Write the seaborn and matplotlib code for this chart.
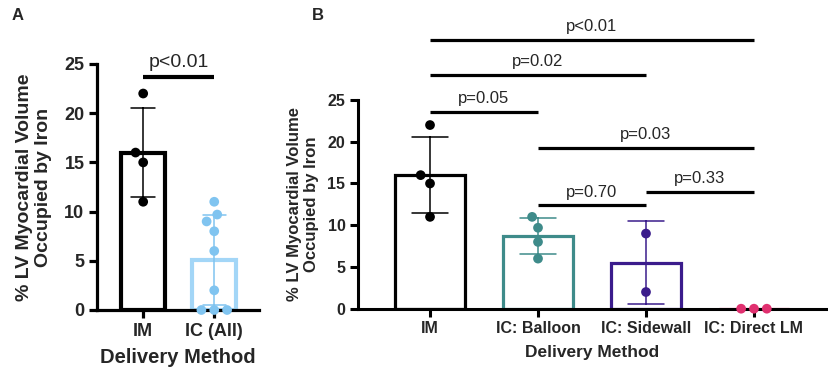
import numpy as np
import pandas as pd
import matplotlib
matplotlib.use("Agg")
import matplotlib.pyplot as plt
import seaborn as sns

sns.set_theme(style="ticks")
plt.rcParams['font.family'] = ['Liberation Sans', 'DejaVu Sans']

# ---------------- data ----------------
im_vals = [22, 16, 15, 11]
balloon_vals = [11, 9.7, 8, 6]
sidewall_vals = [9, 2]
direct_vals = [0, 0, 0]
ic_all_vals = balloon_vals + sidewall_vals + direct_vals

cats_a = ["IM", "IC (All)"]
cats_b = ["IM", "IC: Balloon", "IC: Sidewall", "IC: Direct LM"]

bar_colors_a = ["#000000", "#A3D6F7"]
pt_colors_a = ["#000000", "#80C4F0"]
colors_b = ["#000000", "#3E8B8A", "#3B1C8C", "#E0306F"]

# significance annotations (group i, group j, bar height, label)
sig_a = [(0, 1, 23.7, "p<0.01")]
sig_b = [
    (0, 3, 32.2, "p<0.01"),
    (0, 2, 28.0, "p=0.02"),
    (0, 1, 23.6, "p=0.05"),
    (1, 3, 19.3, "p=0.03"),
    (2, 3, 14.0, "p=0.33"),
    (1, 2, 12.4, "p=0.70"),
]

df_a = pd.DataFrame({
    "group": ["IM"] * len(im_vals) + ["IC (All)"] * len(ic_all_vals),
    "value": im_vals + ic_all_vals,
})
df_b = pd.DataFrame({
    "group": (["IM"] * len(im_vals) + ["IC: Balloon"] * len(balloon_vals)
              + ["IC: Sidewall"] * len(sidewall_vals)
              + ["IC: Direct LM"] * len(direct_vals)),
    "value": im_vals + balloon_vals + sidewall_vals + direct_vals,
})

fig = plt.figure(figsize=(8.29, 3.83), dpi=100)
ax_a = fig.add_axes([97 / 829, 1 - 310 / 383, 162 / 829, 246 / 383])
ax_b = fig.add_axes([358 / 829, 1 - 308.7 / 383, 468 / 829, 208.7 / 383])


def draw_panel(ax, df, cats, bar_cols, pt_cols, sig, bar_lw, spine_lw,
               tick_fs, label_fs, xlabel_fs, p_fs, sig_lw, width, xlim,
               ylabelpad):
    sns.barplot(data=df, x="group", y="value", hue="group", order=cats,
                hue_order=cats, palette=bar_cols, fill=False, errorbar="sd",
                capsize=0.33, width=width, linewidth=bar_lw,
                err_kws={"linewidth": 1.1}, legend=False, ax=ax)
    # recolor error bars to match their group
    for ln in ax.lines:
        xd = np.asarray(ln.get_xdata(), dtype=float)
        xd = xd[~np.isnan(xd)]
        if len(xd):
            idx = int(round(np.median(xd)))
            ln.set_color(pt_cols[idx])
    n_before = len(ax.collections)
    sns.swarmplot(data=df, x="group", y="value", hue="group", order=cats,
                  hue_order=cats, palette=pt_cols, size=7, linewidth=1.8,
                  edgecolor="none", legend=False, ax=ax, zorder=4)
    for c in ax.collections[n_before:]:
        c.set_clip_on(False)
    ax.set_ylim(0, 25)
    ax.set_yticks([0, 5, 10, 15, 20, 25])
    ax.set_xlim(*xlim)
    sns.despine(ax=ax)
    for s in ["left", "bottom"]:
        ax.spines[s].set_linewidth(spine_lw)
        ax.spines[s].set_color("black")
        ax.spines[s].set_zorder(3)
    ax.tick_params(axis="both", width=spine_lw, length=6, color="black",
                   labelsize=tick_fs, pad=3)
    for t in ax.get_xticklabels() + ax.get_yticklabels():
        t.set_fontweight("bold")
    ax.set_ylabel("% LV Myocardial Volume\nOccupied by Iron",
                  fontsize=label_fs, fontweight="bold", labelpad=ylabelpad,
                  linespacing=1.15)
    ax.set_xlabel("Delivery Method", fontsize=xlabel_fs, fontweight="bold",
                  labelpad=6)
    for i, j, h, lab in sig:
        ax.plot([i, j], [h, h], color="black", lw=sig_lw, clip_on=False,
                solid_capstyle="butt")
        ax.annotate(lab, xy=((i + j) / 2, h), xytext=(0, 4),
                    textcoords="offset points", ha="center", va="bottom",
                    fontsize=p_fs, annotation_clip=False)


draw_panel(ax_a, df_a, cats_a, bar_colors_a, pt_colors_a, sig_a,
           bar_lw=3.0, spine_lw=2.3, tick_fs=13, label_fs=14, xlabel_fs=14.5,
           p_fs=14, sig_lw=3.0, width=0.62, xlim=(-0.65, 1.63), ylabelpad=9)
draw_panel(ax_b, df_b, cats_b, colors_b, colors_b, sig_b,
           bar_lw=2.3, spine_lw=2.2, tick_fs=11.5, label_fs=12, xlabel_fs=12.5,
           p_fs=12, sig_lw=2.3, width=0.65, xlim=(-0.667, 3.667),
           ylabelpad=6)

fig.text(18 / 829, 1 - 15 / 383, "A", fontsize=12, fontweight="bold",
         ha="center", va="center")
fig.text(318 / 829, 1 - 15 / 383, "B", fontsize=12, fontweight="bold",
         ha="center", va="center")

fig.savefig("out.png", dpi=100, facecolor="white")
